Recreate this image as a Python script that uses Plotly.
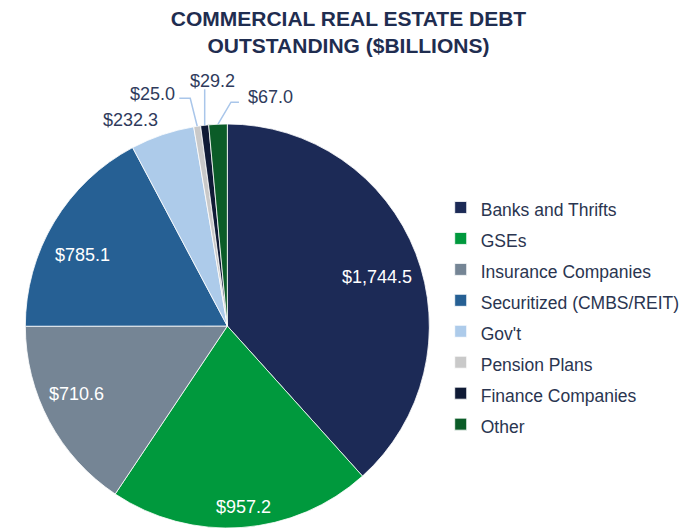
import math
import plotly.graph_objects as go

# Commercial real estate debt outstanding, $ billions, by holder
categories = [
    "Banks and Thrifts",
    "GSEs",
    "Insurance Companies",
    "Securitized (CMBS/REIT)",
    "Gov't",
    "Pension Plans",
    "Finance Companies",
    "Other",
]
debt_billions = [1744.5, 957.2, 710.6, 785.1, 232.3, 25.0, 29.2, 67.0]

slice_colors = [
    "#1c2a56",  # Banks and Thrifts
    "#00993d",  # GSEs
    "#758595",  # Insurance Companies
    "#266094",  # Securitized
    "#adcbea",  # Gov't
    "#c9c9c9",  # Pension Plans
    "#0f1a35",  # Finance Companies
    "#0b5c28",  # Other
]

# Large slices: value label inside, placed along the slice's mid-angle
# (angle nudge in degrees, distance as a fraction of the radius)
inside_spots = {
    "Banks and Thrifts": (3, 0.78),
    "GSEs": (-1, 0.90),
    "Insurance Companies": (4, 0.82),
    "Securitized (CMBS/REIT)": (-5, 0.80),
}

# Small slices get their value written outside the pie, with a leader line.
# Each entry: elbow offset from the rim, horizontal run, text offset, x anchor
callouts = {
    "Gov't": dict(elbow=None, run=0, text=(-3, -14.5), anchor="right"),
    "Pension Plans": dict(elbow=(-7, -28), run=-11, text=(-2, -4), anchor="right"),
    "Finance Companies": dict(elbow=(0, -36), run=0, text=(8, -8.5), anchor="center"),
    "Other": dict(elbow=(13, -22), run=8, text=(7, -5.5), anchor="left"),
}

W, H = 685, 528
PIE_LEFT, PIE_RIGHT, PIE_TOP = 24, 432, 124
dom_x = [PIE_LEFT / W, PIE_RIGHT / W]
dom_y = [0, 1 - PIE_TOP / H]
radius = min(PIE_RIGHT - PIE_LEFT, H - PIE_TOP) / 2
cx = (PIE_LEFT + PIE_RIGHT) / 2
cy = H - radius

FONT = "Arial, Liberation Sans, sans-serif"


def px(x):
    return x / W


def py(y):
    return 1 - y / H


def money(v):
    return f"${v:,.1f}"


def polar(angle_deg, dist):
    a = math.radians(angle_deg)
    return cx + dist * math.sin(a), cy - dist * math.cos(a)


total = sum(debt_billions)
mid_angles = []
acc = 0.0
for v in debt_billions:
    mid_angles.append((acc + v / 2) / total * 360.0)
    acc += v

# legend line height follows the legend font size; the label text itself is smaller
legend_labels = [f"<span style='font-size:17.5px'>{c}</span>" for c in categories]

fig = go.Figure(
    go.Pie(
        labels=legend_labels,
        values=debt_billions,
        sort=False,
        direction="clockwise",
        rotation=0,
        marker=dict(colors=slice_colors, line=dict(color="#ffffff", width=0.8)),
        textinfo="none",
        domain=dict(x=dom_x, y=dom_y),
        hoverinfo="label+value",
    )
)

shapes = []
annotations = []
for cat, val, ang in zip(categories, debt_billions, mid_angles):
    if cat in inside_spots:
        nudge, frac = inside_spots[cat]
        tx, ty = polar(ang + nudge, frac * radius)
        annotations.append(
            dict(
                x=px(tx), y=py(ty), xref="paper", yref="paper",
                text=money(val), showarrow=False,
                xanchor="center", yanchor="middle",
                font=dict(family=FONT, size=18, color="#ffffff"),
            )
        )
        continue
    spec = callouts[cat]
    rim = polar(ang, radius)
    end = rim
    if spec["elbow"] is not None:
        elbow = (rim[0] + spec["elbow"][0], rim[1] + spec["elbow"][1])
        end = (elbow[0] + spec["run"], elbow[1])
        path = (
            f"M {px(rim[0])},{py(rim[1])} L {px(elbow[0])},{py(elbow[1])} "
            f"L {px(end[0])},{py(end[1])}"
        )
        shapes.append(
            dict(type="path", xref="paper", yref="paper", path=path,
                 line=dict(color="#a9c6ea", width=1.5))
        )
    tx, ty = end[0] + spec["text"][0], end[1] + spec["text"][1]
    annotations.append(
        dict(
            x=px(tx), y=py(ty), xref="paper", yref="paper",
            text=money(val), showarrow=False,
            xanchor=spec["anchor"], yanchor="middle",
            font=dict(family=FONT, size=18, color="#2f3b5c"),
        )
    )

fig.update_layout(
    width=W,
    height=H,
    margin=dict(l=0, r=0, t=0, b=0),
    paper_bgcolor="#ffffff",
    plot_bgcolor="#ffffff",
    title=dict(
        text="COMMERCIAL REAL ESTATE DEBT<br>OUTSTANDING ($BILLIONS)",
        x=349.5 / W,
        xanchor="center",
        xref="paper",
        y=1 - 26 / H,
        yref="container",
        yanchor="top",
        font=dict(family=FONT, size=21, color="#1f2d50", weight=700),
    ),
    legend=dict(
        x=442 / W,
        xanchor="left",
        y=1 - 187 / H,
        yanchor="top",
        font=dict(family=FONT, size=21.5, color="#2a3550"),
        bgcolor="rgba(0,0,0,0)",
        itemwidth=30,
    ),
    shapes=shapes,
    annotations=annotations,
    showlegend=True,
)

fig.write_html("out.html")
